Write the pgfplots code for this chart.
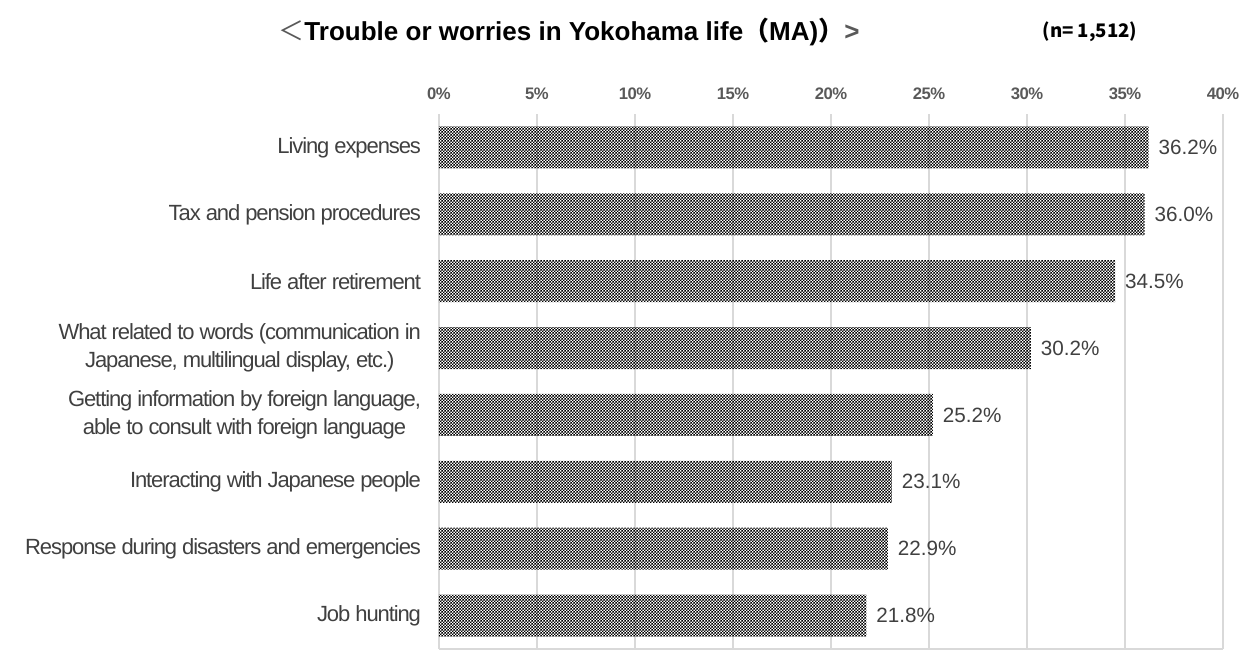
\documentclass[border=0pt]{standalone}
\usepackage{pgfplots}
\pgfplotsset{compat=1.18}
\usepackage{fontspec}
\setmainfont{Liberation Sans}
\newfontfamily\tightfont[LetterSpace=-5]{Liberation Sans}
\newfontfamily\titlefont[LetterSpace=-3]{Liberation Sans}
\newfontfamily\cjk{Noto Sans CJK JP}
\usetikzlibrary{patterns}
\pgfdeclarepatternformonly{checker}{\pgfpointorigin}{\pgfqpoint{2.2pt}{2.2pt}}{\pgfqpoint{2.2pt}{2.2pt}}{%
  \pgfpathrectangle{\pgfpointorigin}{\pgfqpoint{1.1pt}{1.1pt}}%
  \pgfpathrectangle{\pgfqpoint{1.1pt}{1.1pt}}{\pgfqpoint{1.1pt}{1.1pt}}%
  \pgfusepath{fill}}
\definecolor{gridgray}{HTML}{D9D9D9}
\definecolor{ticktxt}{HTML}{595959}
\definecolor{labtxt}{HTML}{404040}
\begin{document}
\begin{tikzpicture}
\begin{axis}[
  name=ax,
  scale only axis,
  width=588pt, height=401.25pt,
  xbar, bar width=31.5pt,
  xmin=0, xmax=40,
  ymin=-0.5, ymax=7.5,
  y dir=reverse,
  xtick={0,5,...,40},
  xticklabel={\pgfmathprintnumber{\tick}\%},
  xticklabel pos=top,
  xticklabel style={font=\titlefont\fontsize{12.5}{14}\selectfont\bfseries, text=ticktxt, yshift=7pt},
  /pgf/number format/assume math mode=true,
  ytick={0,...,7},
  yticklabels={{Living expenses},{Tax and pension procedures},{Life after retirement},
    {What related to words (communication in\\Japanese, multilingual display, etc.)},
    {Getting information by foreign language,\\able to consult with foreign language},
    {Interacting with Japanese people},{Response during disasters and emergencies},{Job hunting}},
  yticklabel style={font=\tightfont\fontsize{16.5}{21}\selectfont, text=labtxt, align=center, xshift=-10pt},
  major tick length=0pt,
  axis line style={draw=none},
  xmajorgrids,
  grid style={gridgray, line width=0.9pt},
  nodes near coords={\pgfmathprintnumber[fixed,fixed zerofill,precision=1]{\pgfplotspointmeta}\%},
  point meta=x,
  nodes near coords style={font=\fontsize{15.5}{17}\selectfont, text=labtxt, anchor=west, xshift=4pt},
  clip=false,
]
\addplot[draw=none, pattern=checker, pattern color=black] coordinates {
  (36.2,0) (36.0,1) (34.5,2) (30.2,3) (25.2,4) (23.1,5) (22.9,6) (21.8,7)};
\draw[gridgray, line width=0.9pt] (rel axis cs:0,0) -- (rel axis cs:1,0);
\end{axis}
\node[font=\fontsize{19.5}{22}\selectfont\bfseries] at ([shift={(97.5pt,61.5pt)}]ax.north west)
  {{\cjk\mdseries\color{ticktxt}＜}Trouble or worries in Yokohama life{\cjk（}MA){\cjk）}{\color{ticktxt}>}};
\node[font=\cjk\fontsize{14}{16}\selectfont\bfseries] at ([shift={(-99.75pt,61.5pt)}]ax.north east) {(n= 1,512)};
\pgfresetboundingbox
\path ([xshift=-329.25pt]ax.south west) rectangle ([shift={(15pt,85.5pt)}]ax.north east);
\end{tikzpicture}
\end{document}
